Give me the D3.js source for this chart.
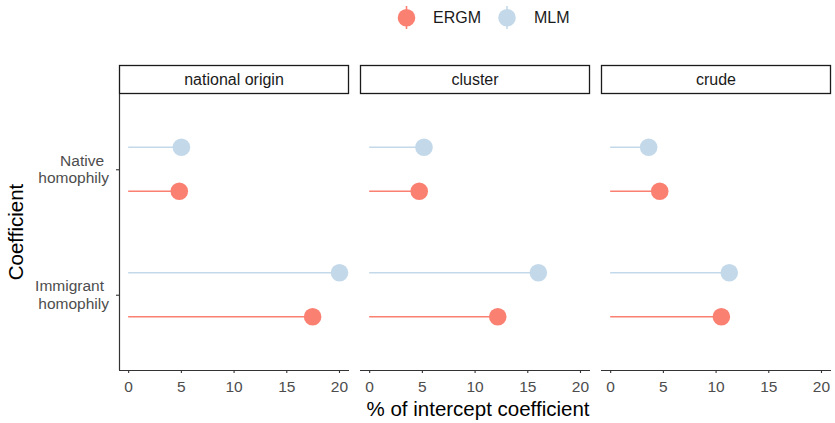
<html>
<head>
<style>
  body { margin: 0; background: #fff; }
  text { font-family: "Liberation Sans", Arial, sans-serif; }
</style>
</head>
<body>
<svg id="chart"></svg>
<script src="https://cdnjs.cloudflare.com/ajax/libs/d3/7.8.5/d3.min.js"></script>
<script>
    const panels = ["national origin", "cluster", "crude"];
    const coefficients = ["Native homophily", "Immigrant homophily"];
    const models = ["MLM", "ERGM"];
    const xTicks = [0, 5, 10, 15, 20];

    // values per panel, order: [Native, Immigrant]
    const ergmValues = {
        "national origin": [4.85, 17.5],
        "cluster": [4.75, 12.2],
        "crude": [4.7, 10.55]
    };
    const mlmValues = {
        "national origin": [5.05, 20.05],
        "cluster": [5.2, 16.05],
        "crude": [3.65, 11.3]
    };

    const colors = { ERGM: "#FA8072", MLM: "#C3D9EA" };

    const width = 835, height = 423;
    const svg = d3.select("#chart").attr("width", width).attr("height", height);

    const panelLeft = [119, 360, 601], panelW = 230;
    const plotTop = 94, plotBottom = 370, stripTop = 65;

    const y = d3.scalePoint().domain(coefficients).range([plotTop, plotBottom]).padding(0.6);
    const dodge = d3.scalePoint().domain(models).range([-22, 22]);

    panels.forEach((p, i) => {
        const x0 = panelLeft[i];
        const x = d3.scaleLinear().domain([-0.87, 20.95]).range([x0, x0 + panelW]);
        const g = svg.append("g");

        // strip
        g.append("rect").attr("x", x0 + 0.5).attr("y", stripTop + 0.5)
            .attr("width", panelW - 1).attr("height", plotTop - stripTop - 1)
            .attr("fill", "#fff").attr("stroke", "#1a1a1a").attr("stroke-width", 1.3);
        g.append("text").attr("x", x0 + panelW / 2).attr("y", stripTop + 20)
            .attr("text-anchor", "middle").attr("font-size", 16).attr("fill", "#1a1a1a").text(p);

        // x axis
        const ax = g.append("g").attr("transform", `translate(0,${plotBottom})`)
            .call(d3.axisBottom(x).tickValues(xTicks).tickSize(3).tickSizeOuter(0).tickPadding(8));
        ax.select(".domain").attr("stroke", "#333").attr("stroke-width", 1.2)
            .attr("d", `M${x0},0.5H${x0 + panelW}`);
        ax.selectAll(".tick line").attr("stroke", "#333").attr("stroke-width", 1.1);
        ax.selectAll(".tick text").attr("font-size", 15.5).attr("fill", "#4d4d4d")
            .style("font-family", "Liberation Sans, Arial, sans-serif");

        const rows = [];
        coefficients.forEach((c, j) => {
            rows.push({ c, m: "MLM", v: mlmValues[p][j] });
            rows.push({ c, m: "ERGM", v: ergmValues[p][j] });
        });

        g.selectAll(".seg").data(rows).enter().append("line")
            .attr("x1", x(0)).attr("x2", d => x(d.v))
            .attr("y1", d => y(d.c) + dodge(d.m)).attr("y2", d => y(d.c) + dodge(d.m))
            .attr("stroke", d => colors[d.m]).attr("stroke-width", 1.6);
        g.selectAll(".pt").data(rows).enter().append("circle")
            .attr("cx", d => x(d.v)).attr("cy", d => y(d.c) + dodge(d.m))
            .attr("r", 8.8).attr("fill", d => colors[d.m]);
    });

    // y axis on first panel
    const ay = svg.append("g").attr("transform", `translate(${panelLeft[0]},0)`)
        .call(d3.axisLeft(y).tickSize(3).tickSizeOuter(0).tickFormat(""));
    ay.select(".domain").attr("stroke", "#333").attr("stroke-width", 1.2)
        .attr("d", `M0.5,${plotTop}V${plotBottom}`);
    ay.selectAll(".tick line").attr("stroke", "#333").attr("stroke-width", 1.1);
    coefficients.forEach(c => {
        const parts = c.split(" ");
        const t = svg.append("text").attr("text-anchor", "end").attr("font-size", 15.5)
            .attr("fill", "#4d4d4d").attr("y", y(c) - 3.5);
        t.append("tspan").attr("x", 104).text(parts[0]);
        t.append("tspan").attr("x", 109).attr("dy", 17.5).text(parts[1]);
    });

    // axis titles
    svg.append("text").attr("x", 478).attr("y", 415.5).attr("text-anchor", "middle")
        .attr("font-size", 20.5).attr("fill", "#000").text("% of intercept coefficient");
    svg.append("text").attr("transform", `translate(23,232) rotate(-90)`)
        .attr("text-anchor", "middle").attr("font-size", 20.5).attr("fill", "#000").text("Coefficient");

    // legend
    const legend = [{ m: "ERGM", x: 406.5, tx: 433 }, { m: "MLM", x: 507, tx: 534 }];
    legend.forEach(l => {
        svg.append("line").attr("x1", l.x).attr("x2", l.x).attr("y1", 6).attr("y2", 29)
            .attr("stroke", colors[l.m]).attr("stroke-width", 1.6);
        svg.append("circle").attr("cx", l.x).attr("cy", 17.7).attr("r", 8.8).attr("fill", colors[l.m]);
        svg.append("text").attr("x", l.tx).attr("y", 23.3).attr("font-size", 16)
            .attr("fill", "#1a1a1a").text(l.m);
    });
</script>
</body>
</html>
